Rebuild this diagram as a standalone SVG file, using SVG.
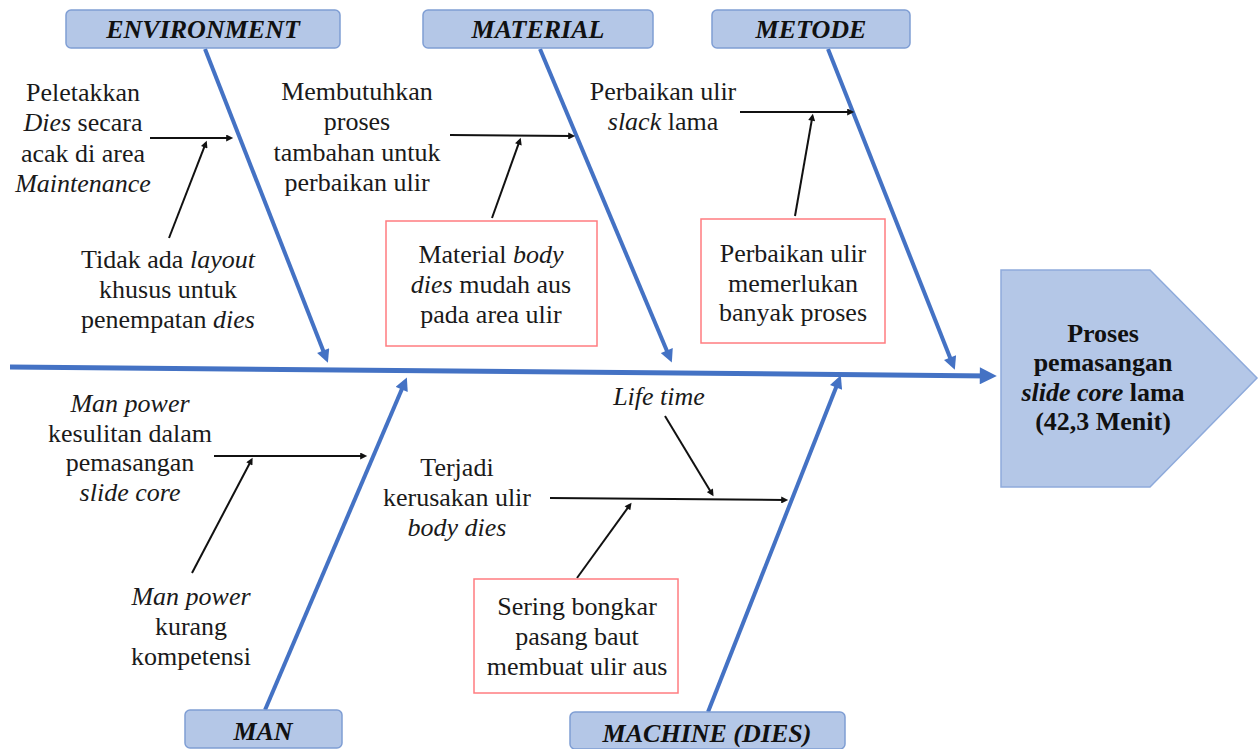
<svg xmlns="http://www.w3.org/2000/svg" width="1259" height="749" viewBox="0 0 1259 749">
<defs>
<style>
.t{font-family:"Liberation Serif","Times New Roman",serif;font-size:26px;fill:#1a1a1a;text-anchor:middle}
.i{font-style:italic}
.cat{fill:#b4c7e7;stroke:#7f9ed4;stroke-width:1.5}
.cl{font-family:"Liberation Serif","Times New Roman",serif;font-size:26px;font-weight:bold;font-style:italic;fill:#111;text-anchor:middle}
.rb{fill:#fff;stroke:#ff7c80;stroke-width:1.5}
.bl{stroke:#4472c4;stroke-width:4;fill:none;marker-end:url(#ba)}
.bk{stroke:#111;stroke-width:2;fill:none;marker-end:url(#ka)}
.hd{font-family:"Liberation Serif","Times New Roman",serif;font-size:26px;font-weight:bold;fill:#111;text-anchor:middle}
</style>
<marker id="ba" viewBox="0 0 10 10" refX="6" refY="5" markerWidth="14" markerHeight="13" markerUnits="userSpaceOnUse" orient="auto"><path d="M0,0 L10,5 L0,10 z" fill="#4472c4"/></marker>
<marker id="sa" viewBox="0 0 10 10" refX="6" refY="5" markerWidth="18" markerHeight="17" markerUnits="userSpaceOnUse" orient="auto"><path d="M0,0 L10,5 L0,10 z" fill="#4472c4"/></marker>
<marker id="ka" viewBox="0 0 10 10" refX="6" refY="5" markerWidth="9" markerHeight="7" markerUnits="userSpaceOnUse" orient="auto"><path d="M0,0 L10,5 L0,10 z" fill="#111"/></marker>
</defs>
<rect width="1259" height="749" fill="#fff"/>

<g id="connectors">
<line x1="10" y1="367" x2="990" y2="375.9" stroke="#4472c4" stroke-width="5" marker-end="url(#sa)"/>
<line class="bl" x1="205" y1="49" x2="326" y2="357.8"/>
<line class="bl" x1="540" y1="49" x2="669.8" y2="357.8"/>
<line class="bl" x1="828" y1="49" x2="952.9" y2="364.8"/>
<line class="bl" x1="265" y1="710" x2="404.8" y2="382.2"/>
<line class="bl" x1="708" y1="712" x2="838.9" y2="380.2"/>
<line class="bk" x1="150" y1="138" x2="230.4" y2="138"/>
<line class="bk" x1="169" y1="238" x2="205.7" y2="143.4"/>
<line class="bk" x1="450" y1="135" x2="572.4" y2="136"/>
<line class="bk" x1="492" y1="218" x2="519.8" y2="140.4"/>
<line class="bk" x1="740" y1="112" x2="851.4" y2="112"/>
<line class="bk" x1="795" y1="216" x2="812.4" y2="116.5"/>
<line class="bk" x1="214" y1="456" x2="364.4" y2="456"/>
<line class="bk" x1="192" y1="573" x2="251.3" y2="460.2"/>
<line class="bk" x1="550" y1="498" x2="785.4" y2="500"/>
<line class="bk" x1="665" y1="416" x2="712.1" y2="493.9"/>
<line class="bk" x1="577" y1="578" x2="629.9" y2="504.9"/>
</g>

<g id="head">
<polygon points="1001,270 1150,270 1257,378 1150,487 1001,487" fill="#b4c7e7" stroke="#8eaadb" stroke-width="1.5"/>
<text class="hd" x="1103" y="342">Proses</text>
<text class="hd" x="1103" y="371">pemasangan</text>
<text class="hd" x="1103" y="401"><tspan font-style="italic">slide core</tspan> lama</text>
<text class="hd" x="1103" y="430">(42,3 Menit)</text>
</g>

<g id="cat-environment">
<rect class="cat" x="66" y="10" width="274" height="38" rx="5"/>
<text class="cl" x="203" y="38">ENVIRONMENT</text>
</g>
<g id="cat-material">
<rect class="cat" x="423" y="10" width="230" height="38" rx="5"/>
<text class="cl" x="538" y="38">MATERIAL</text>
</g>
<g id="cat-metode">
<rect class="cat" x="712" y="10" width="198" height="38" rx="5"/>
<text class="cl" x="811" y="38">METODE</text>
</g>
<g id="cat-man">
<rect class="cat" x="185" y="710" width="157" height="38" rx="5"/>
<text class="cl" x="263" y="740">MAN</text>
</g>
<g id="cat-machine">
<rect class="cat" x="570" y="712" width="275" height="37" rx="5"/>
<text class="cl" x="707" y="742">MACHINE (DIES)</text>
</g>

<g id="cause-peletakkan">
<text class="t" x="83" y="101">Peletakkan</text>
<text class="t" x="83" y="131"><tspan class="i">Dies</tspan> secara</text>
<text class="t" x="83" y="162">acak di area</text>
<text class="t i" x="83" y="192">Maintenance</text>
</g>
<g id="cause-layout">
<text class="t" x="168" y="268">Tidak ada <tspan class="i">layout</tspan></text>
<text class="t" x="168" y="298">khusus untuk</text>
<text class="t" x="168" y="328">penempatan <tspan class="i">dies</tspan></text>
</g>
<g id="cause-membutuhkan">
<text class="t" x="357" y="100">Membutuhkan</text>
<text class="t" x="357" y="130">proses</text>
<text class="t" x="357" y="161">tambahan untuk</text>
<text class="t" x="357" y="191">perbaikan ulir</text>
</g>
<g id="cause-material-body">
<rect class="rb" x="386" y="221" width="211" height="125"/>
<text class="t" x="491" y="263">Material <tspan class="i">body</tspan></text>
<text class="t" x="491" y="293"><tspan class="i">dies</tspan> mudah aus</text>
<text class="t" x="491" y="323">pada area ulir</text>
</g>
<g id="cause-slack">
<text class="t" x="663" y="100">Perbaikan ulir</text>
<text class="t" x="663" y="130"><tspan class="i">slack</tspan> lama</text>
</g>
<g id="cause-banyak-proses">
<rect class="rb" x="701" y="219" width="184" height="124"/>
<text class="t" x="793" y="262">Perbaikan ulir</text>
<text class="t" x="793" y="292">memerlukan</text>
<text class="t" x="793" y="321">banyak proses</text>
</g>
<g id="cause-kesulitan">
<text class="t i" x="130" y="412">Man power</text>
<text class="t" x="130" y="442">kesulitan dalam</text>
<text class="t" x="130" y="471">pemasangan</text>
<text class="t i" x="130" y="501">slide core</text>
</g>
<g id="cause-kompetensi">
<text class="t i" x="191" y="605">Man power</text>
<text class="t" x="191" y="635">kurang</text>
<text class="t" x="191" y="665">kompetensi</text>
</g>
<g id="cause-lifetime">
<text class="t i" x="659" y="405">Life time</text>
</g>
<g id="cause-kerusakan">
<text class="t" x="457" y="476">Terjadi</text>
<text class="t" x="457" y="506">kerusakan ulir</text>
<text class="t i" x="457" y="536">body dies</text>
</g>
<g id="cause-bongkar">
<rect class="rb" x="474" y="579" width="204" height="114"/>
<text class="t" x="577" y="615">Sering bongkar</text>
<text class="t" x="577" y="645">pasang baut</text>
<text class="t" x="577" y="675">membuat ulir aus</text>
</g>
</svg>
